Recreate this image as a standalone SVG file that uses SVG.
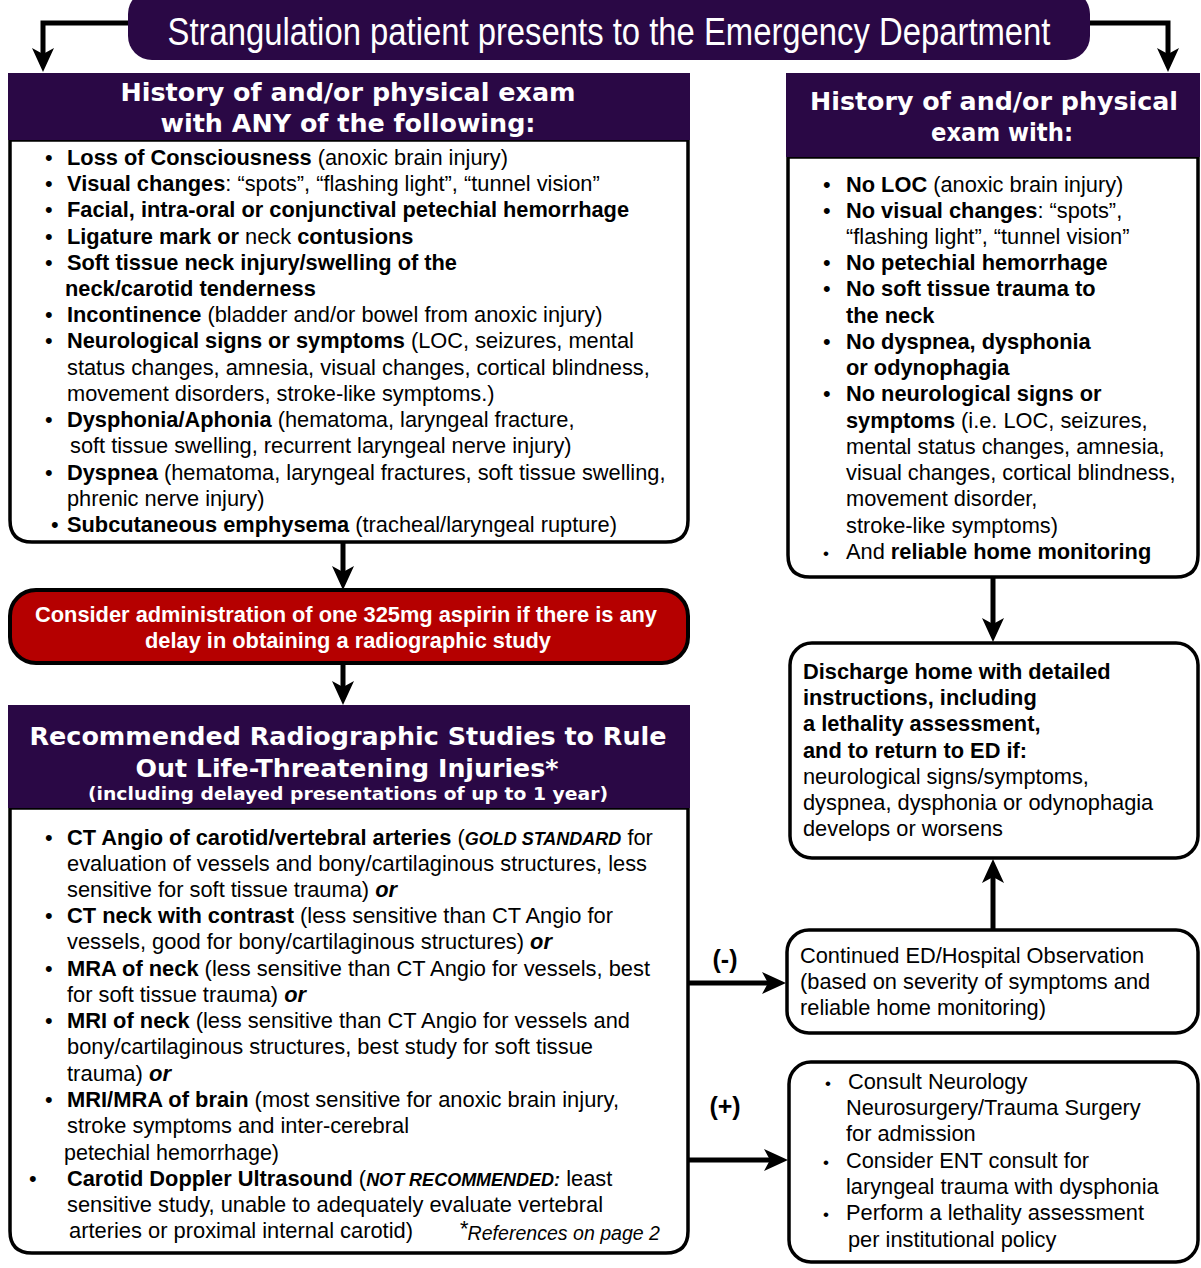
<svg xmlns="http://www.w3.org/2000/svg" width="1201" height="1268" viewBox="0 0 1201 1268">
<defs>
<style>
.hdr{fill:#2a0845}
.box{fill:#fff;stroke:#000;stroke-width:3.5}
.ht{font-family:"DejaVu Sans",Verdana,sans-serif;font-weight:bold;fill:#fff;text-anchor:middle}
.t{font-family:"Liberation Sans",Arial,sans-serif;font-size:21.8px;fill:#000}
.n{font-family:"Liberation Sans",Arial,sans-serif;font-size:21.8px;fill:#000}
.b{font-weight:bold}
.bi{font-weight:bold;font-style:italic}
.conn{fill:none;stroke:#000;stroke-width:5}
</style>
<marker id="ah" markerUnits="userSpaceOnUse" markerWidth="24" markerHeight="24" viewBox="0 0 24 24" refX="8" refY="12" orient="auto">
<path d="M0,1 L24,12 L0,23 L6,12 Z" fill="#000"/>
</marker>
</defs>
<rect width="1201" height="1268" fill="#fff"/>

<g id="connectors">
<path class="conn" d="M130,23 H43 V56" marker-end="url(#ah)"/>
<path class="conn" d="M1088,23 H1168 V56" marker-end="url(#ah)"/>
<path class="conn" d="M343,542 V574" marker-end="url(#ah)"/>
<path class="conn" d="M343,663 V689" marker-end="url(#ah)"/>
<path class="conn" d="M993,577 V626" marker-end="url(#ah)"/>
<path class="conn" d="M993,930 V875" marker-end="url(#ah)"/>
<path class="conn" d="M688,983 H770" marker-end="url(#ah)"/>
<path class="conn" d="M688,1160 H772" marker-end="url(#ah)"/>
<text x="725" y="968" text-anchor="middle" style="font-family:'Liberation Sans',Arial,sans-serif;font-size:25px;font-weight:bold">(-)</text>
<text x="725" y="1115" text-anchor="middle" style="font-family:'Liberation Sans',Arial,sans-serif;font-size:25px;font-weight:bold">(+)</text>
</g>

<g id="start">
<rect x="128" y="-10" width="962" height="70" rx="24" class="hdr"/>
<text x="609" y="45" text-anchor="middle" textLength="883" lengthAdjust="spacingAndGlyphs" style="font-family:'Liberation Sans Narrow','Liberation Sans',sans-serif;font-size:38px;fill:#fff">Strangulation patient presents to the Emergency Department</text>
</g>

<g id="positive-findings">
<path class="box" d="M10,140 V520 Q10,542 32,542 H666 Q688,542 688,520 V140 Z"/>
<rect x="8" y="73" width="682" height="67" class="hdr"/>
<text class="ht" x="348" y="101" font-size="24" textLength="455" lengthAdjust="spacingAndGlyphs">History of and/or physical exam</text>
<text class="ht" x="348" y="132" font-size="24" textLength="375" lengthAdjust="spacingAndGlyphs">with ANY of the following:</text>
<g class="t">
<text x="45" y="165">•</text><text x="67" y="165"><tspan class="b">Loss of Consciousness</tspan> (anoxic brain injury)</text>
<text x="45" y="191">•</text><text x="67" y="191"><tspan class="b">Visual changes</tspan>: “spots”, “flashing light”, “tunnel vision”</text>
<text x="45" y="217">•</text><text x="67" y="217" class="b">Facial, intra-oral or conjunctival petechial hemorrhage</text>
<text x="45" y="244">•</text><text x="67" y="244"><tspan class="b">Ligature mark or</tspan> neck <tspan class="b">contusions</tspan></text>
<text x="45" y="270">•</text><text x="67" y="270" class="b">Soft tissue neck injury/swelling of the</text>
<text x="65" y="296" class="b">neck/carotid tenderness</text>
<text x="45" y="322">•</text><text x="67" y="322"><tspan class="b">Incontinence</tspan> (bladder and/or bowel from anoxic injury)</text>
<text x="45" y="348">•</text><text x="67" y="348"><tspan class="b">Neurological signs or symptoms</tspan> (LOC, seizures, mental</text>
<text x="67" y="375">status changes, amnesia, visual changes, cortical blindness,</text>
<text x="67" y="401">movement disorders, stroke-like symptoms.)</text>
<text x="45" y="427">•</text><text x="67" y="427"><tspan class="b">Dysphonia/Aphonia</tspan> (hematoma, laryngeal fracture,</text>
<text x="70" y="453">soft tissue swelling, recurrent laryngeal nerve injury)</text>
<text x="45" y="480">•</text><text x="67" y="480"><tspan class="b">Dyspnea</tspan> (hematoma, laryngeal fractures, soft tissue swelling,</text>
<text x="67" y="506">phrenic nerve injury)</text>
<text x="51" y="532">•</text><text x="67" y="532"><tspan class="b">Subcutaneous emphysema</tspan> (tracheal/laryngeal rupture)</text>
</g>
</g>

<g id="aspirin">
<rect x="10" y="590" width="678" height="73" rx="26" fill="#b50000" stroke="#000" stroke-width="4"/>
<text x="346" y="622" text-anchor="middle" textLength="622" lengthAdjust="spacingAndGlyphs" style="font-family:'Liberation Sans Narrow','Liberation Sans',sans-serif;font-size:22px;font-weight:bold;fill:#fff">Consider administration of one 325mg aspirin if there is any</text>
<text x="348" y="648" text-anchor="middle" textLength="406" lengthAdjust="spacingAndGlyphs" style="font-family:'Liberation Sans Narrow','Liberation Sans',sans-serif;font-size:22px;font-weight:bold;fill:#fff">delay in obtaining a radiographic study</text>
</g>

<g id="radiographic">
<path class="box" d="M10,808 V1231 Q10,1253 32,1253 H666 Q688,1253 688,1231 V808 Z"/>
<rect x="8" y="705" width="682" height="103" class="hdr"/>
<text class="ht" x="348" y="745" font-size="25" textLength="637" lengthAdjust="spacingAndGlyphs">Recommended Radiographic Studies to Rule</text>
<text class="ht" x="347" y="777" font-size="25" textLength="423" lengthAdjust="spacingAndGlyphs">Out Life-Threatening Injuries*</text>
<text class="ht" x="348" y="800" font-size="18" textLength="520" lengthAdjust="spacingAndGlyphs">(including delayed presentations of up to 1 year)</text>
<g class="n">
<text x="45" y="845">•</text><text x="67" y="845"><tspan class="b">CT Angio of carotid/vertebral arteries</tspan> (<tspan class="bi" font-size="18">GOLD STANDARD</tspan> for</text>
<text x="67" y="871" textLength="580" lengthAdjust="spacingAndGlyphs">evaluation of vessels and bony/cartilaginous structures, less</text>
<text x="67" y="897" textLength="330" lengthAdjust="spacingAndGlyphs">sensitive for soft tissue trauma) <tspan class="bi">or</tspan></text>
<text x="45" y="923">•</text><text x="67" y="923" textLength="546" lengthAdjust="spacingAndGlyphs"><tspan class="b">CT neck with contrast</tspan> (less sensitive than CT Angio for</text>
<text x="67" y="949" textLength="485" lengthAdjust="spacingAndGlyphs">vessels, good for bony/cartilaginous structures) <tspan class="bi">or</tspan></text>
<text x="45" y="976">•</text><text x="67" y="976" textLength="583" lengthAdjust="spacingAndGlyphs"><tspan class="b">MRA of neck</tspan> (less sensitive than CT Angio for vessels, best</text>
<text x="67" y="1002" textLength="239" lengthAdjust="spacingAndGlyphs">for soft tissue trauma) <tspan class="bi">or</tspan></text>
<text x="45" y="1028">•</text><text x="67" y="1028" textLength="563" lengthAdjust="spacingAndGlyphs"><tspan class="b">MRI of neck</tspan> (less sensitive than CT Angio for vessels and</text>
<text x="67" y="1054" textLength="526" lengthAdjust="spacingAndGlyphs">bony/cartilaginous structures, best study for soft tissue</text>
<text x="67" y="1081" textLength="104" lengthAdjust="spacingAndGlyphs">trauma) <tspan class="bi">or</tspan></text>
<text x="45" y="1107">•</text><text x="67" y="1107" textLength="552" lengthAdjust="spacingAndGlyphs"><tspan class="b">MRI/MRA of brain</tspan> (most sensitive for anoxic brain injury,</text>
<text x="67" y="1133" textLength="342" lengthAdjust="spacingAndGlyphs">stroke symptoms and inter-cerebral</text>
<text x="64" y="1160" textLength="215" lengthAdjust="spacingAndGlyphs">petechial hemorrhage)</text>
<text x="29" y="1186">•</text><text x="67" y="1186"><tspan class="b">Carotid Doppler Ultrasound</tspan> (<tspan class="bi" font-size="18">NOT RECOMMENDED:</tspan> least</text>
<text x="67" y="1212" textLength="536" lengthAdjust="spacingAndGlyphs">sensitive study, unable to adequately evaluate vertebral</text>
<text x="69" y="1238" textLength="344" lengthAdjust="spacingAndGlyphs">arteries or proximal internal carotid)</text>
<text x="459" y="1240" font-size="19.5" font-style="italic" textLength="201" lengthAdjust="spacingAndGlyphs"><tspan font-size="22" dy="-4">*</tspan><tspan dy="4">References on page 2</tspan></text>
</g>
</g>

<g id="negative-findings">
<path class="box" d="M788,157 V555 Q788,577 810,577 H1176 Q1198,577 1198,555 V157 Z"/>
<rect x="786" y="73" width="414" height="84" class="hdr"/>
<text class="ht" x="994" y="110" font-size="24" textLength="368" lengthAdjust="spacingAndGlyphs">History of and/or physical</text>
<text class="ht" x="1002" y="141" font-size="24" textLength="142" lengthAdjust="spacingAndGlyphs">exam with:</text>
<g class="t">
<text x="823" y="192">•</text><text x="846" y="192"><tspan class="b">No LOC</tspan> (anoxic brain injury)</text>
<text x="823" y="218">•</text><text x="846" y="218"><tspan class="b">No visual changes</tspan>: “spots”,</text>
<text x="846" y="244">“flashing light”, “tunnel vision”</text>
<text x="823" y="270">•</text><text x="846" y="270" class="b">No petechial hemorrhage</text>
<text x="823" y="296">•</text><text x="846" y="296" class="b">No soft tissue trauma to</text>
<text x="846" y="323" class="b">the neck</text>
<text x="823" y="349">•</text><text x="846" y="349" class="b">No dyspnea, dysphonia</text>
<text x="846" y="375" class="b">or odynophagia</text>
<text x="823" y="401">•</text><text x="846" y="401" class="b">No neurological signs or</text>
<text x="846" y="428"><tspan class="b">symptoms</tspan> (i.e. LOC, seizures,</text>
<text x="846" y="454">mental status changes, amnesia,</text>
<text x="846" y="480">visual changes, cortical blindness,</text>
<text x="846" y="506">movement disorder,</text>
<text x="846" y="533">stroke-like symptoms)</text>
<text x="823" y="559" font-size="17">•</text><text x="846" y="559">And <tspan class="b">reliable home monitoring</tspan></text>
</g>
</g>

<g id="discharge">
<rect x="790" y="643" width="408" height="215" rx="22" class="box" stroke-width="4"/>
<g class="t">
<text x="803" y="679" class="b">Discharge home with detailed</text>
<text x="803" y="705" class="b">instructions, including</text>
<text x="803" y="731" class="b">a lethality assessment,</text>
<text x="803" y="758" class="b">and to return to ED if:</text>
<text x="803" y="784">neurological signs/symptoms,</text>
<text x="803" y="810">dyspnea, dysphonia or odynophagia</text>
<text x="803" y="836">develops or worsens</text>
</g>
</g>

<g id="observation">
<rect x="787" y="930" width="411" height="103" rx="22" class="box" stroke-width="4"/>
<g class="t">
<text x="800" y="963">Continued ED/Hospital Observation</text>
<text x="800" y="989">(based on severity of symptoms and</text>
<text x="800" y="1015">reliable home monitoring)</text>
</g>
</g>

<g id="admission">
<rect x="789" y="1062" width="409" height="200" rx="22" class="box" stroke-width="4"/>
<g class="t">
<text x="825" y="1089" font-size="17">•</text><text x="848" y="1089">Consult Neurology</text>
<text x="846" y="1115">Neurosurgery/Trauma Surgery</text>
<text x="846" y="1141">for admission</text>
<text x="823" y="1168" font-size="17">•</text><text x="846" y="1168">Consider ENT consult for</text>
<text x="846" y="1194">laryngeal trauma with dysphonia</text>
<text x="823" y="1220" font-size="17">•</text><text x="846" y="1220">Perform a lethality assessment</text>
<text x="848" y="1247">per institutional policy</text>
</g>
</g>
</svg>
